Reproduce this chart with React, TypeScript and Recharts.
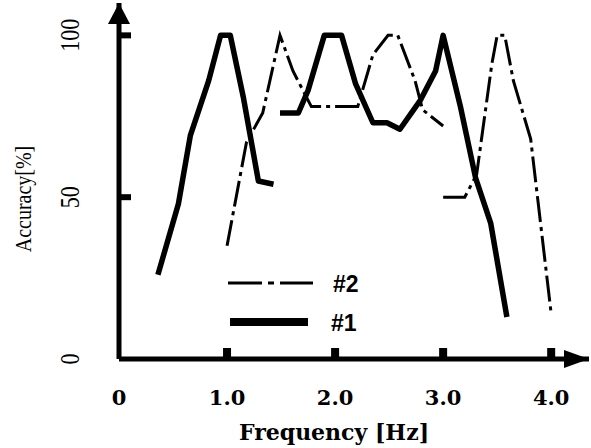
import { LineChart, Line, XAxis, YAxis, ReferenceDot, Customized } from 'recharts';

// #1 (solid thick). null = break in the curve
const freq1 = [0.36, 0.55, 0.66, 0.83, 0.94, 1.03, 1.15, 1.29, 1.43, 1.46, 1.49, 1.66, 1.75, 1.9, 2.06, 2.19, 2.35, 2.48, 2.6, 2.79, 2.93, 3.0, 3.16, 3.3, 3.44, 3.59];
const acc1 = [26, 48, 69, 86, 100, 100, 81, 55, 54, null, 76, 76, 83, 100, 100, 85, 73, 73, 71, 80, 89, 100, 78, 56, 42, 13];

// #2 (dash-dot)
const freq2 = [1.0, 1.18, 1.33, 1.49, 1.61, 1.78, 2.21, 2.35, 2.49, 2.58, 2.74, 2.81, 3.0, 3.0, 3.0, 3.2, 3.31, 3.45, 3.5, 3.57, 3.65, 3.81, 4.0];
const acc2 = [35, 67, 76, 100, 89, 78, 78, 94, 100, 100, 86, 77, 72, null, 50, 50, 57, 91, 100, 100, 86, 68, 14];

const xTicks = [0, 1, 2, 3, 4];
const yTicks = [0, 50, 100];

const data1 = freq1.map((f, i) => ({ f, acc: acc1[i] }));
const data2 = freq2.map((f, i) => ({ f, acc: acc2[i] }));

const DASH = '26 5 4 5';

const XTick = (p: any) => (
  <text x={p.x} y={p.y + 46} textAnchor="middle" fontFamily="DejaVu Serif" fontWeight="bold" fontSize={21} fill="#000">
    {p.payload.value === 0 ? '0' : p.payload.value.toFixed(1)}
  </text>
);

// tall, condensed serif like the scan
const YTick = (p: any) => (
  <text
    x={0}
    y={0}
    transform={`translate(70, ${p.y}) rotate(-90) scale(1, 1.2)`}
    textAnchor="middle"
    dominantBaseline="central"
    fontFamily="Liberation Serif"
    fontSize={22}
    fill="#000"
  >
    {p.payload.value}
  </text>
);

const Legend2 = () => (
  <g>
    <line x1={228} y1={283} x2={313} y2={283} stroke="#000" strokeWidth={3} strokeDasharray="34 6 6 6" />
    <text x={333} y={292} fontFamily="Liberation Sans" fontWeight="bold" fontSize={23} fill="#000">#2</text>
    <line x1={230} y1={322} x2={308} y2={322} stroke="#000" strokeWidth={8} />
    <text x={331} y={331} fontFamily="Liberation Sans" fontWeight="bold" fontSize={23} fill="#000">#1</text>
  </g>
);

export default function App() {
  return (
    <div style={{ position: 'absolute', left: 0, top: 0, background: '#fff' }}>
      <LineChart width={591} height={448} margin={{ top: 3, right: 2, bottom: 0, left: 0 }}>
        <XAxis
          type="number"
          dataKey="f"
          domain={[0, 4.35]}
          ticks={xTicks}
          allowDataOverflow
          height={89}
          tickSize={0}
          tickMargin={0}
          tickLine={false}
          axisLine={{ stroke: '#000', strokeWidth: 5 }}
          tick={XTick}
          label={{
            content: (p: any) => (
              <text x={334} y={p.viewBox.y + 81} textAnchor="middle" fontFamily="DejaVu Serif" fontWeight="bold" fontSize={22} fill="#000">
                Frequency [Hz]
              </text>
            ),
          }}
        />
        <YAxis
          type="number"
          domain={[0, 110]}
          ticks={yTicks}
          width={119}
          tickSize={0}
          tickMargin={0}
          tickLine={false}
          axisLine={{ stroke: '#000', strokeWidth: 5 }}
          tick={YTick}
          label={{
            content: () => (
              <text
                x={0}
                y={0}
                transform="translate(23, 199) rotate(-90) scale(1, 1.2)"
                textAnchor="middle"
                dominantBaseline="central"
                fontFamily="Liberation Serif"
                fontSize={20}
                fill="#000"
              >
                Accuracy[%]
              </text>
            ),
          }}
        />
        <Line data={data1} dataKey="acc" type="linear" stroke="#000" strokeWidth={5.5} strokeLinejoin="round" dot={false} connectNulls={false} isAnimationActive={false} />
        <Line data={data2} dataKey="acc" type="linear" stroke="#000" strokeWidth={3} strokeDasharray={DASH} dot={false} connectNulls={false} isAnimationActive={false} />
        {xTicks.slice(1).map((t) => (
          <ReferenceDot key={`xt${t}`} x={t} y={0} ifOverflow="visible" shape={(p: any) => <rect x={p.cx - 4} y={p.cy - 11} width={8} height={11} fill="#000" />} />
        ))}
        {yTicks.slice(1).map((t) => (
          <ReferenceDot key={`yt${t}`} x={0} y={t} ifOverflow="visible" shape={(p: any) => <rect x={p.cx} y={p.cy - 3} width={12} height={6} fill="#000" />} />
        ))}
        <ReferenceDot x={4.35} y={0} ifOverflow="visible" shape={(p: any) => <polygon points={`${p.cx},${p.cy} ${p.cx - 25},${p.cy - 9} ${p.cx - 25},${p.cy + 9}`} fill="#000" />} />
        <ReferenceDot x={0} y={110} ifOverflow="visible" shape={(p: any) => <polygon points={`${p.cx},${p.cy} ${p.cx - 11},${p.cy + 21} ${p.cx + 11},${p.cy + 21}`} fill="#000" />} />
        <Customized component={<Legend2 />} />
      </LineChart>
    </div>
  );
}
